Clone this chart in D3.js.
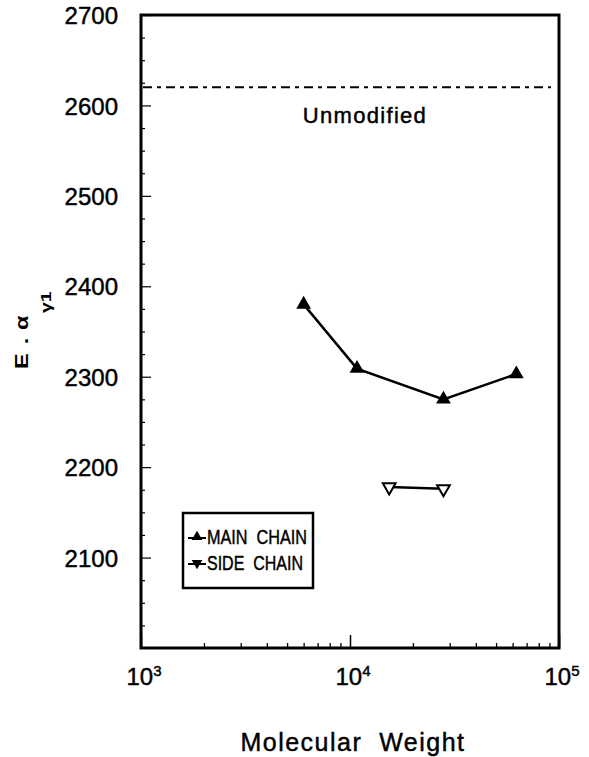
<!DOCTYPE html>
<html><head><meta charset="utf-8">
<script src="https://cdn.jsdelivr.net/npm/d3@7"></script>
<style>
html,body{margin:0;padding:0;background:#fff;}
svg text{font-family:"Liberation Sans",Arial,Helvetica,sans-serif;fill:#000;}
.heavy{stroke:#000;stroke-width:0.45px;}
</style></head>
<body>
<svg id="chart" width="589" height="757"></svg>
<script>
// ---- data ----
const mainChainMW = [6000, 10800, 28000, 62500];
const mainChainE  = [2380, 2309, 2275, 2303];
const sideChainMW = [15400, 28000];
const sideChainE  = [2178, 2176];
const unmodifiedE = 2620;
const yTickValues = [2100, 2200, 2300, 2400, 2500, 2600, 2700];
const xTickExponents = [3, 4, 5];
const legendLabels = ["MAIN  CHAIN", "SIDE  CHAIN"];

const svg = d3.select("#chart");
const L = 141, R = 559, T = 15, B = 648;
const x = d3.scaleLog().domain([1e3, 1e5]).range([L, R]);
const y = d3.scaleLinear().domain([2000, 2700]).range([B, T]);

// minor y ticks (inward)
const yMinor = d3.range(2000, 2701, 25).filter(v => v % 100 !== 0);
svg.append("g").attr("transform", `translate(${L},0)`)
  .call(d3.axisLeft(y).tickValues(yMinor).tickSize(-4).tickFormat(""))
  .call(g => g.select(".domain").remove())
  .selectAll("line").attr("stroke-width", 1.2);

// major y ticks with labels
const yAx = svg.append("g").attr("transform", `translate(${L},0)`)
  .call(d3.axisLeft(y).tickValues(yTickValues).tickSize(-10).tickPadding(23).tickFormat(d3.format("d")));
yAx.select(".domain").remove();
yAx.selectAll("line").attr("stroke-width", 1.2);
yAx.selectAll("text").attr("font-size", 24).attr("dy", "0.36em").attr("class", "heavy")
  .style("font-family", "Liberation Sans, Arial, sans-serif");

// minor x ticks
const xMinor = [];
[1e3, 1e4].forEach(b => { for (let k = 2; k <= 9; k++) xMinor.push(b * k); });
svg.append("g").attr("transform", `translate(0,${B})`)
  .call(d3.axisBottom(x).tickValues(xMinor).tickSize(-5).tickFormat(""))
  .call(g => g.select(".domain").remove())
  .selectAll("line").attr("stroke-width", 1.3);

// major x ticks
const xAx = svg.append("g").attr("transform", `translate(0,${B})`)
  .call(d3.axisBottom(x).tickValues(xTickExponents.map(e => Math.pow(10, e))).tickSize(-13).tickFormat(""));
xAx.select(".domain").remove();
xAx.selectAll("line").attr("stroke-width", 1.5);

// x tick labels with superscripts
xTickExponents.forEach(e => {
  const t = svg.append("text").attr("class", "heavy")
    .attr("x", x(Math.pow(10, e)) + 3).attr("y", 685)
    .attr("text-anchor", "middle").attr("font-size", 24);
  t.append("tspan").text("10");
  t.append("tspan").attr("font-size", 15).attr("dy", -9).text(String(e));
});

// frame
svg.append("rect").attr("x", L).attr("y", T).attr("width", R - L).attr("height", B - T)
  .attr("fill", "none").attr("stroke", "#000").attr("stroke-width", 3);

// unmodified reference line
svg.append("line")
  .attr("x1", x(1e3) + 2).attr("x2", x(1e5) - 8)
  .attr("y1", y(unmodifiedE)).attr("y2", y(unmodifiedE))
  .attr("stroke", "#000").attr("stroke-width", 2)
  .attr("stroke-dasharray", "9,5,4,5");
svg.append("text").attr("class", "heavy").attr("x", 365).attr("y", 123).attr("text-anchor", "middle")
  .attr("font-size", 22).attr("letter-spacing", 1.3).text("Unmodified");

// series
const line = d3.line().x(d => x(d[0])).y(d => y(d[1]));
const mainData = mainChainMW.map((m, i) => [m, mainChainE[i]]);
const sideData = sideChainMW.map((m, i) => [m, sideChainE[i]]);

svg.append("path").datum(mainData).attr("d", line)
  .attr("fill", "none").attr("stroke", "#000").attr("stroke-width", 2.5);
svg.append("path").datum(sideData).attr("d", line)
  .attr("fill", "none").attr("stroke", "#000").attr("stroke-width", 2.5);

const triUp = d3.symbol().type(d3.symbolTriangle).size(95);
const triSmall = d3.symbol().type(d3.symbolTriangle).size(70);

svg.selectAll(".mc").data(mainData).enter().append("path")
  .attr("d", triUp)
  .attr("transform", d => `translate(${x(d[0])},${y(d[1])})`)
  .attr("fill", "#000");

svg.selectAll(".sc").data(sideData).enter().append("path")
  .attr("d", triSmall)
  .attr("transform", d => `translate(${x(d[0])},${y(d[1])}) rotate(180)`)
  .attr("fill", "#fff").attr("stroke", "#000").attr("stroke-width", 2);

// legend
const lg = svg.append("g");
lg.append("rect").attr("x", 183).attr("y", 513).attr("width", 130).attr("height", 75)
  .attr("fill", "#fff").attr("stroke", "#000").attr("stroke-width", 2.5);
const legSym = d3.symbol().type(d3.symbolTriangle).size(50);
legendLabels.forEach((lab, i) => {
  const cy = 537 + i * 26;
  lg.append("line").attr("x1", 188).attr("x2", 206).attr("y1", cy + 1).attr("y2", cy + 1)
    .attr("stroke", "#000").attr("stroke-width", 2);
  lg.append("path").attr("d", legSym)
    .attr("transform", `translate(197,${cy}) rotate(${i === 0 ? 0 : 180})`)
    .attr("fill", "#000");
  lg.append("text").attr("class", "heavy").attr("x", 207).attr("y", cy + 7)
    .attr("font-size", 21).attr("textLength", i === 0 ? 100 : 96)
    .attr("lengthAdjust", "spacingAndGlyphs")
    .style("white-space", "pre").text(lab);
});

// axis titles
svg.append("text").attr("class", "heavy").attr("x", 353).attr("y", 751).attr("text-anchor", "middle")
  .attr("font-size", 25).attr("letter-spacing", 1.5).style("white-space", "pre")
  .text("Molecular  Weight");

const yl = svg.append("text").attr("transform", "translate(28,369) rotate(-90) scale(1.3,1)")
  .attr("font-size", 18).attr("font-weight", "bold");
yl.append("tspan").attr("x", 0).attr("y", 0).text("E");
yl.append("tspan").attr("x", 19).attr("y", 0).text(".");
yl.append("tspan").attr("x", 30).attr("y", 0).text("α");
yl.append("tspan").attr("x", 43).attr("y", 23).attr("font-size", 15).text("γ1");
</script>
</body></html>
